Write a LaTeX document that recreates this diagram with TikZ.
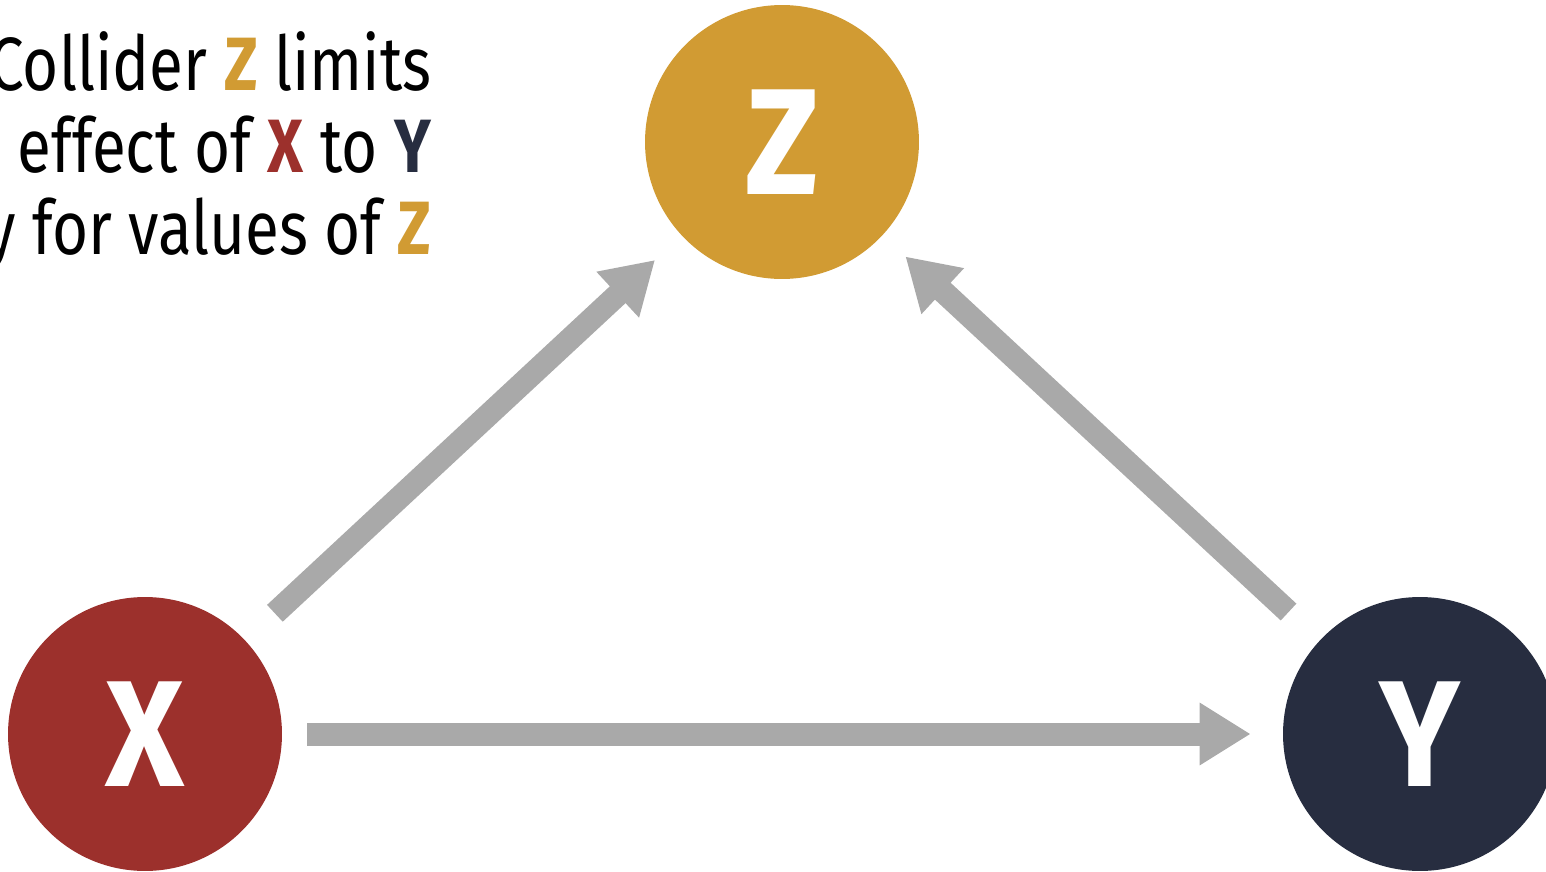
\documentclass[tikz,border=0pt]{standalone}
\usepackage{fontspec}
\setmainfont{Fira Sans}[FakeStretch=0.82]
\newfontfamily\varfont{Fira Sans}[FakeStretch=0.9]
\usetikzlibrary{arrows.meta}
\definecolor{zgold}{HTML}{D19B33}
\definecolor{xred}{HTML}{9C302C}
\definecolor{ynavy}{HTML}{272D40}
\definecolor{arrowgray}{HTML}{A9A9A9}
\tikzset{
  var/.style={circle, minimum size=5.48cm, inner sep=0pt, text=white,
    font=\varfont\fontsize{86}{86}\selectfont\bfseries},
  causal/.style={draw=arrowgray, line width=0.46cm,
    -{Triangle[length=1.02cm,width=1.18cm]}},
  says/.style={anchor=base east, inner sep=0pt, font=\fontsize{43}{46}\selectfont}
}
\begin{document}
\begin{tikzpicture}[x=0.02cm,y=-0.02cm]
\useasboundingbox (0,0) rectangle (1546,872);
\clip (0,0) rectangle (1546,872);
\node[says] (line1) at (432,90) {Collider \textcolor{zgold}{\textbf{Z}} limits};
\node[says] (line2) at (432,172) {effect of \textcolor{xred}{\textbf{X}} to \textcolor{ynavy}{\textbf{Y}}};
\node[says] (line3) at (432,254) {y for values of \textcolor{zgold}{\textbf{Z}}};
\node[var, fill=zgold] (Z) at (782,142) {Z};
\node[var, fill=xred] (X) at (145,734) {X};
\node[var, fill=ynavy] (Y) at (1420,734) {Y};
\draw[causal, shorten <=0.8cm, shorten >=0.72cm] (X) -- (Z);
\draw[causal, shorten <=0.84cm, shorten >=0.62cm] (Y) -- (Z);
\draw[causal, shorten <=0.5cm, shorten >=0.64cm] (X) -- (Y);
\end{tikzpicture}
\end{document}
